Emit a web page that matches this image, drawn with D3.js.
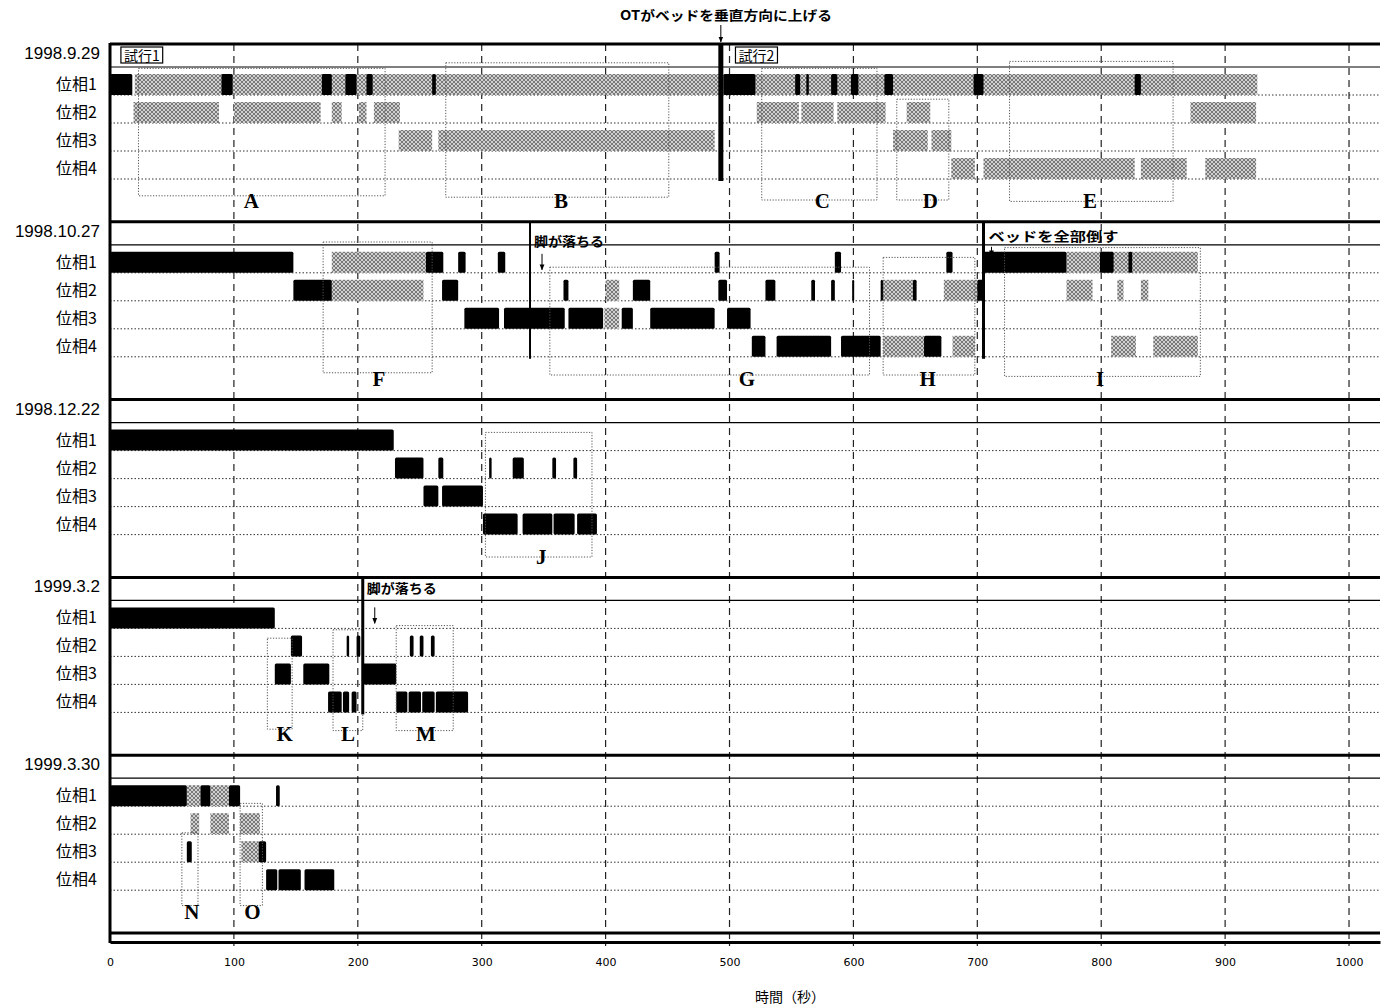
<!DOCTYPE html>
<html>
<head>
<meta charset="utf-8">
<script src="https://cdn.jsdelivr.net/npm/d3@7"></script>
<style>
body { margin: 0; background: #fff; }
svg { display: block; }
</style>
</head>
<body>
<svg id="chart" width="1389" height="1008"></svg>
<script>
var dates = ["1998.9.29", "1998.10.27", "1998.12.22", "1999.3.2", "1999.3.30"];
var phases = ["位相1", "位相2", "位相3", "位相4"];
var tickValues = [0, 100, 200, 300, 400, 500, 600, 700, 800, 900, 1000];

// [panel, phase, start(s), end(s)]
var blackBars = [
  [0,1,0,18],[0,1,90,99],[0,1,171,179],[0,1,190,199],[0,1,207,212],[0,1,260,263],
  [0,1,495,521],[0,1,553,557],[0,1,562,564],[0,1,582,587],[0,1,598,604],[0,1,625,632],
  [0,1,697,705],[0,1,827,832],
  [1,1,0,148],[1,1,255,269],[1,1,281,287],[1,1,313,319],[1,1,488,492],[1,1,585,590],
  [1,1,675,680],[1,1,705,772],[1,1,799,810],[1,1,822,825],
  [1,2,148,179],[1,2,268,281],[1,2,366,370],[1,2,422,436],[1,2,491,498],[1,2,529,537],
  [1,2,566,569],[1,2,582,585],[1,2,599,600],[1,2,622,624],[1,2,648,651],[1,2,700,706],
  [1,3,286,314],[1,3,318,367],[1,3,370,398],[1,3,413,422],[1,3,436,488],[1,3,498,517],
  [1,4,518,529],[1,4,538,582],[1,4,590,622],[1,4,657,671],
  [2,1,0,229],[2,2,230,253],[2,2,265,269],[2,2,306,308],[2,2,325,334],[2,2,357,360],
  [2,2,374,377],[2,3,253,265],[2,3,268,301],[2,4,301,329],[2,4,333,357],[2,4,358,375],
  [2,4,377,393],
  [3,1,0,133],[3,2,146,155],[3,2,191,193],[3,2,199,202],[3,2,242,245],[3,2,250,253],
  [3,2,259,262],[3,3,133,146],[3,3,156,177],[3,3,204,231],[3,4,176,187],[3,4,188,193],
  [3,4,195,199],[3,4,231,240],[3,4,241,251],[3,4,252,262],[3,4,263,289],
  [4,1,0,62],[4,1,73,81],[4,1,96,105],[4,1,134,137],[4,3,62,66],[4,3,120,126],
  [4,4,126,135],[4,4,136,154],[4,4,157,181]
];

var grayBars = [
  [0,1,20,495],[0,1,521,926],
  [0,2,19,88],[0,2,100,170],[0,2,179,187],[0,2,201,207],[0,2,213,234],[0,2,522,556],
  [0,2,558,584],[0,2,587,626],[0,2,643,662],[0,2,872,925],
  [0,3,233,260],[0,3,265,488],[0,3,632,660],[0,3,663,679],
  [0,4,679,698],[0,4,705,827],[0,4,832,869],[0,4,884,925],
  [1,1,179,255],[1,1,772,878],
  [1,2,179,253],[1,2,400,411],[1,2,624,648],[1,2,673,700],[1,2,772,793],[1,2,813,818],
  [1,2,832,838],
  [1,3,399,411],
  [1,4,624,657],[1,4,680,698],[1,4,808,828],[1,4,842,878],
  [4,1,62,73],[4,1,81,96],[4,2,65,72],[4,2,81,96],[4,2,105,121],[4,3,106,120]
];

// dotted boxes: panel, letter, t0, t1, row from, row to, letter position
var boxes = [
  [0,"A",23,222,0.05,4.6,114],
  [0,"B",271,451,-0.15,4.65,364],
  [0,"C",526,619,0.05,4.75,575],
  [0,"D",635,677,1.15,4.75,662],
  [0,"E",726,858,-0.2,4.8,791],
  [1,"F",172,260,-0.1,4.57,217],
  [1,"G",355,613,0.8,4.65,514],
  [1,"H",624,698,0.45,4.65,660],
  [1,"I",722,880,0.1,4.7,799],
  [2,"J",303,389,0.35,4.8,348],
  [3,"K",127,147,1.35,4.6,141],
  [3,"L",180,204,1.05,4.65,192],
  [3,"M",231,277,0.9,4.65,255],
  [4,"N",58,71,1.95,4.55,66],
  [4,"O",105,123,0.9,4.55,115]
];

// events: panel, time, note
var events = [
  [0, 493, "OTがベッドを垂直方向に上げる"],
  [1, 339, "脚が落ちる"],
  [1, 705, "ベッドを全部倒す"],
  [3, 204, "脚が落ちる"]
];

var trials = [[0, 8, "試行1"], [0, 504, "試行2"]];

// ---------- drawing ----------
var svg = d3.select("#chart");
var left = 110, right = 1380;

var x = d3.scaleLinear().domain([0, 1025]).range([left, right]);
var panelTop = d3.scaleLinear().domain([0, 5]).range([44, 933]);
var rowY = d3.scaleLinear().domain([0, 4]).range([23, 135]); // offset inside a panel
var barH = 21;

function py(p, r) { return panelTop(p) + rowY(r); }

var defs = svg.append("defs");
var pat = defs.append("pattern")
  .attr("id", "hatch").attr("patternUnits", "userSpaceOnUse")
  .attr("width", 4).attr("height", 4);
pat.append("rect").attr("width", 4).attr("height", 4).attr("fill", "#d0d0d0");
pat.append("path").attr("d", "M0,0L4,4M4,0L0,4")
  .attr("stroke", "#707070").attr("stroke-width", 0.9);

defs.append("marker").attr("id", "arr")
  .attr("viewBox", "0 0 10 10").attr("refX", 9).attr("refY", 5)
  .attr("markerWidth", 6).attr("markerHeight", 6).attr("orient", "auto")
  .append("path").attr("d", "M0,1L10,5L0,9z").attr("fill", "#000");

// vertical dashed grid
svg.append("g").selectAll("line")
  .data(tickValues.filter(function(d) { return d > 0; }))
  .enter().append("line")
  .attr("x1", function(d) { return x(d); }).attr("x2", function(d) { return x(d); })
  .attr("y1", 44).attr("y2", 946)
  .attr("stroke", "#222").attr("stroke-width", 1.2)
  .attr("stroke-dasharray", "7,5");

var pIdx = d3.range(dates.length);

// panel frames
var frame = svg.append("g");
pIdx.forEach(function(p) {
  var t = panelTop(p);
  frame.append("line").attr("x1", left).attr("x2", right).attr("y1", t).attr("y2", t)
    .attr("stroke", "#000").attr("stroke-width", 3);
  frame.append("line").attr("x1", left).attr("x2", right)
    .attr("y1", py(p, 0)).attr("y2", py(p, 0))
    .attr("stroke", "#000").attr("stroke-width", 1.2);
  d3.range(1, 5).forEach(function(r) {
    frame.append("line").attr("x1", left).attr("x2", right)
      .attr("y1", py(p, r)).attr("y2", py(p, r))
      .attr("stroke", "#333").attr("stroke-width", 1)
      .attr("stroke-dasharray", "1.5,2");
  });
  frame.append("text").attr("x", 100).attr("y", t + 15)
    .attr("text-anchor", "end").attr("font-family", "Liberation Sans, Arial, sans-serif")
    .attr("font-size", 17).text(dates[p]);
  phases.forEach(function(ph, i) {
    frame.append("text").attr("x", 97).attr("y", py(p, i + 1) - 5)
      .attr("text-anchor", "end").attr("font-family", "Noto Sans CJK JP, sans-serif")
      .attr("font-size", 16).text(ph);
  });
});
frame.append("line").attr("x1", left).attr("x2", right).attr("y1", 933).attr("y2", 933)
  .attr("stroke", "#000").attr("stroke-width", 3);

// gray hatched bars
svg.append("g").selectAll("rect").data(grayBars).enter().append("rect")
  .attr("x", function(d) { return x(d[2]); })
  .attr("width", function(d) { return Math.max(1.5, x(d[3]) - x(d[2])); })
  .attr("y", function(d) { return py(d[0], d[1]) - barH; })
  .attr("height", barH)
  .attr("fill", "url(#hatch)");

// black bars
svg.append("g").selectAll("rect").data(blackBars).enter().append("rect")
  .attr("x", function(d) { return x(d[2]); })
  .attr("width", function(d) { return Math.max(2, x(d[3]) - x(d[2])); })
  .attr("y", function(d) { return py(d[0], d[1]) - barH; })
  .attr("height", barH)
  .attr("rx", 1.5)
  .attr("fill", "#000");

// dotted boxes and letters
var bx = svg.append("g");
bx.selectAll("rect").data(boxes).enter().append("rect")
  .attr("x", function(d) { return x(d[2]); })
  .attr("width", function(d) { return x(d[3]) - x(d[2]); })
  .attr("y", function(d) { return py(d[0], d[4]); })
  .attr("height", function(d) { return py(d[0], d[5]) - py(d[0], d[4]); })
  .attr("fill", "none").attr("stroke", "#555").attr("stroke-width", 1)
  .attr("stroke-dasharray", "1.2,1.6");
bx.selectAll("text").data(boxes).enter().append("text")
  .attr("x", function(d) { return x(d[6]); })
  .attr("y", function(d) { return py(d[0], 4.75) + 8; })
  .attr("text-anchor", "middle")
  .attr("font-family", "Liberation Serif, Times New Roman, serif")
  .attr("font-weight", "bold").attr("font-size", 21)
  .text(function(d) { return d[1]; });

// trial labels
var tr = svg.append("g");
trials.forEach(function(d) {
  var t = tr.append("text").attr("x", x(d[1]) + 4).attr("y", panelTop(d[0]) + 17)
    .attr("font-family", "Noto Sans CJK JP, sans-serif").attr("font-size", 14).text(d[2]);
  var bb = t.node().getBBox();
  tr.insert("rect", "text").attr("x", bb.x - 3).attr("y", panelTop(d[0]) + 3)
    .attr("width", bb.width + 6).attr("height", 16)
    .attr("fill", "#fff").attr("stroke", "#000").attr("stroke-width", 1.2);
});

// events: vertical lines, notes, arrows
var evW = [5, 2, 3, 3];
var ev = svg.append("g");
events.forEach(function(d, i) {
  var p = d[0], xt = x(d[1]), t = panelTop(p);
  ev.append("line").attr("x1", xt).attr("x2", xt)
    .attr("y1", t).attr("y2", py(p, 4) + 2)
    .attr("stroke", "#000").attr("stroke-width", evW[i]);
  var txt = ev.append("text").attr("font-family", "Noto Sans CJK JP, sans-serif")
    .attr("font-weight", "bold").attr("font-size", 13).text(d[2]);
  if (i === 0) {
    txt.attr("x", 620).attr("y", 20).attr("textLength", 212).attr("lengthAdjust", "spacingAndGlyphs");
    ev.append("line").attr("x1", xt).attr("x2", xt).attr("y1", 25).attr("y2", 42)
      .attr("stroke", "#000").attr("marker-end", "url(#arr)");
  } else if (i === 2) {
    txt.attr("x", xt + 5).attr("y", t + 19).attr("textLength", 130).attr("lengthAdjust", "spacingAndGlyphs");
    ev.append("line").attr("x1", xt + 8).attr("x2", xt + 8).attr("y1", t + 25).attr("y2", t + 34)
      .attr("stroke", "#000").attr("marker-end", "url(#arr)");
  } else {
    txt.attr("x", xt + 4).attr("y", t + (p === 1 ? 24 : 16))
      .attr("textLength", 70).attr("lengthAdjust", "spacingAndGlyphs");
    var a0 = p === 1 ? 32 : 30;
    ev.append("line").attr("x1", xt + 12).attr("x2", xt + 12)
      .attr("y1", t + a0).attr("y2", t + a0 + 16)
      .attr("stroke", "#000").attr("marker-end", "url(#arr)");
  }
});

// left axis line and x axis
svg.append("line").attr("x1", left).attr("x2", left).attr("y1", 43).attr("y2", 943)
  .attr("stroke", "#000").attr("stroke-width", 3);

var xAxis = svg.append("g").attr("transform", "translate(0,942)")
  .call(d3.axisBottom(x).tickValues(tickValues).tickFormat(d3.format("d"))
    .tickSize(0).tickPadding(16));
xAxis.select(".domain").attr("stroke", "#000").attr("stroke-width", 3);
xAxis.selectAll("text").attr("font-family", "DejaVu Sans, sans-serif")
  .attr("font-size", 11).attr("fill", "#000");

svg.append("text").attr("x", 790).attr("y", 1002).attr("text-anchor", "middle")
  .attr("font-family", "Noto Sans CJK JP, sans-serif").attr("font-size", 14)
  .text("時間（秒）");
</script>
</body>
</html>
